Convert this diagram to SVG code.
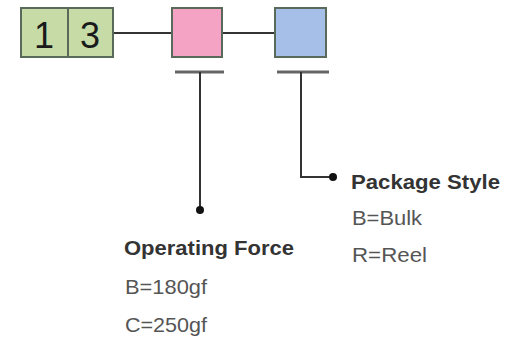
<svg xmlns="http://www.w3.org/2000/svg" width="512" height="342" viewBox="0 0 512 342">
<style>
.box{stroke:#5a6a5a;stroke-width:2}
.ln{stroke:#333;stroke-width:2;fill:none}
.bar{stroke:#666;stroke-width:3}
.dig{font-family:"Liberation Sans",Arial,sans-serif;font-size:36px;fill:#1a1a1a;text-anchor:middle}
.h{font-family:"Liberation Sans",Arial,sans-serif;font-size:21px;font-weight:bold;fill:#333}
.t{font-family:"Liberation Sans",Arial,sans-serif;font-size:21px;fill:#555}
</style>
<rect width="512" height="342" fill="#fff"/>
<g id="connectors">
<line class="ln" x1="113" y1="33" x2="172" y2="33"/>
<line class="ln" x1="222" y1="33" x2="275" y2="33"/>
<line class="bar" x1="175" y1="72" x2="224" y2="72"/>
<line class="bar" x1="277" y1="72" x2="329" y2="72"/>
<line class="ln" x1="200" y1="72" x2="200" y2="210"/>
<polyline class="ln" points="301,72 301,177 333,177"/>
<circle cx="200" cy="210" r="4" fill="#111"/>
<circle cx="333" cy="177" r="4" fill="#111"/>
</g>
<g id="code">
<rect class="box" x="21" y="8" width="47" height="49" fill="#c6dba6"/>
<rect class="box" x="68" y="8" width="45" height="49" fill="#c6dba6"/>
<text class="dig" x="44" y="48">1</text>
<text class="dig" x="90" y="48">3</text>
</g>
<g id="force-box"><rect class="box" x="172" y="8" width="50" height="49" fill="#f4a3c4"/></g>
<g id="package-box"><rect class="box" x="275" y="8" width="51" height="49" fill="#a6bfe8"/></g>
<g id="force-label">
<text class="h" x="124" y="255" textLength="170" lengthAdjust="spacingAndGlyphs">Operating Force</text>
<text class="t" x="125" y="294" textLength="82" lengthAdjust="spacingAndGlyphs">B=180gf</text>
<text class="t" x="125" y="332" textLength="82" lengthAdjust="spacingAndGlyphs">C=250gf</text>
</g>
<g id="package-label">
<text class="h" x="351" y="189" textLength="149" lengthAdjust="spacingAndGlyphs">Package Style</text>
<text class="t" x="352" y="225" textLength="70" lengthAdjust="spacingAndGlyphs">B=Bulk</text>
<text class="t" x="352" y="262" textLength="75" lengthAdjust="spacingAndGlyphs">R=Reel</text>
</g>
</svg>
